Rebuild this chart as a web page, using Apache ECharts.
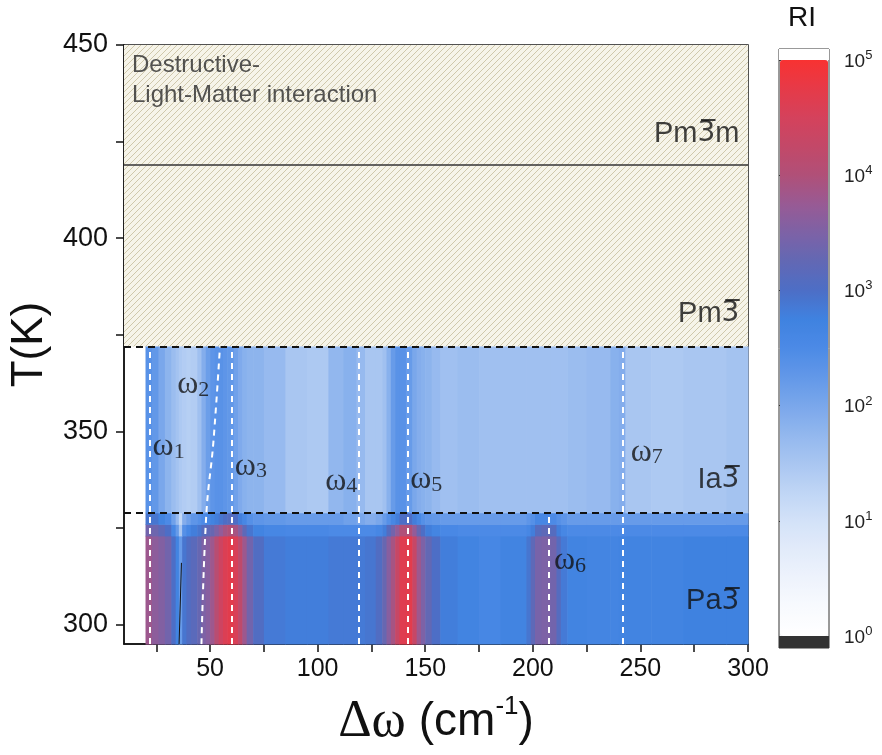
<!DOCTYPE html>
<html>
<head>
<meta charset="utf-8">
<script src="https://cdn.jsdelivr.net/npm/echarts@6/dist/echarts.min.js"></script>
<style>
  html, body { margin: 0; padding: 0; background: #fff; }
  #main { width: 882px; height: 755px; }
</style>
</head>
<body>
<div id="main"></div>
<script>
// wavenumber bin edges (cm-1) of the Raman map
var xEdges = [20, 23, 26, 29, 32, 34, 35.5, 37, 39, 41, 44, 46, 48, 50, 52, 54, 56, 58, 61, 63, 65, 67, 70, 75,
              85, 95, 105, 112, 118, 122, 127, 130, 132, 134, 136, 138, 141, 144, 146, 148, 150, 153, 157, 165,
              175, 185, 197, 199, 201, 204, 208, 211, 213, 216, 225, 236, 240, 243, 255, 270, 290, 300];
// temperature bands (K): Pa-3 phase, two transition rows, Ia-3 phase
var tBands = [295, 323, 326, 329, 372];
// log10(RI) per wavenumber bin, one array per temperature band
var logPa3 = [3.8, 3.65, 3.55, 3.4, 3.0, 2.7, 2.2, 2.9, 3.05, 3.15, 3.3, 3.5, 3.6, 3.8, 4.1, 4.4, 4.6, 4.7, 4.55, 4.2,
              3.8, 3.4, 3.05, 2.85, 2.8, 2.8, 2.85, 2.85, 2.85, 2.9, 3.05, 3.3, 3.6, 3.9, 4.3, 4.65, 4.7, 4.3, 3.8, 3.5,
              3.25, 3.0, 2.8, 2.7, 2.6, 2.7, 2.9, 3.2, 3.45, 3.5, 3.4, 3.1, 2.85, 2.7, 2.65, 2.65, 2.7, 2.7, 2.7, 2.75, 2.75];
var logTransLow = [3.4, 3.35, 3.2, 3.0, 2.6, 2.2, 1.5, 2.4, 2.6, 2.8, 2.9, 3.1, 3.2, 3.3, 3.5, 3.7, 3.9, 4.0, 3.9, 3.6,
                   3.2, 2.9, 2.7, 2.6, 2.55, 2.55, 2.5, 2.5, 2.5, 2.5, 2.6, 2.8, 3.1, 3.4, 3.7, 4.0, 4.0, 3.7, 3.3, 3.0,
                   2.8, 2.65, 2.55, 2.5, 2.5, 2.5, 2.6, 2.8, 3.1, 3.2, 3.1, 2.8, 2.6, 2.5, 2.5, 2.5, 2.5, 2.5, 2.5, 2.5, 2.5];
var logTransHigh = [2.9, 2.9, 2.7, 2.5, 2.1, 1.7, 1.2, 1.9, 2.1, 2.3, 2.4, 2.5, 2.6, 2.7, 2.8, 2.9, 3.0, 3.1, 3.0, 2.8,
                    2.6, 2.4, 2.3, 2.25, 2.2, 2.2, 2.2, 2.1, 2.0, 1.9, 2.0, 2.2, 2.4, 2.6, 2.8, 3.0, 3.0, 2.8, 2.6, 2.4,
                    2.3, 2.25, 2.2, 2.2, 2.2, 2.2, 2.3, 2.4, 2.6, 2.6, 2.5, 2.4, 2.3, 2.2, 2.2, 2.2, 2.2, 2.2, 2.2, 2.2, 2.2];
var logIa3 = [2.35, 2.25, 2.0, 1.8, 1.65, 1.55, 1.45, 1.4, 1.35, 1.4, 1.6, 1.9, 2.15, 2.3, 2.35, 2.35, 2.3, 2.25, 2.1, 1.95,
              1.85, 1.8, 1.8, 1.7, 1.5, 1.45, 1.75, 1.85, 1.7, 1.5, 1.5, 1.6, 1.85, 2.2, 2.35, 2.35, 2.2, 2.0, 1.9, 1.85,
              1.8, 1.7, 1.6, 1.65, 1.6, 1.6, 1.6, 1.6, 1.6, 1.6, 1.6, 1.6, 1.6, 1.65, 1.7, 1.85, 1.9, 1.5, 1.45, 1.5, 1.55];

// phonon modes (white dashed guides)
var modeX = [22, 60, 119, 142, 207.5, 242];
var modeTop = [372, 372, 372, 372, 329, 372];
var omega2Curve = [[46, 295], [48.3, 329], [51.5, 347], [54.6, 372]];
var softLine = [[35.6, 295], [36.7, 316]];

// mode labels
var omegaIdx = ['1', '2', '3', '4', '5', '6', '7'];
var omegaX = [23.3, 34.7, 61.5, 103.5, 143, 209.8, 245.5];
var omegaT = [346, 362, 341, 337, 337.5, 316.5, 344.5];

// phases: [before bar, barred digit, after bar]
var phaseNames = [['Pm', '3\u0305', 'm'], ['Pm', '3\u0305', ''], ['Ia', '3\u0305', ''], ['Pa', '3\u0305', '']];
var phaseT = [427, 380.5, 337.5, 306];
var solidBoundary = 419;
var dashedBoundaries = [372, 329];

// axes ticks
var xTicks = [25, 50, 75, 100, 125, 150, 175, 200, 225, 250, 275, 300];
var xLabels = [50, 100, 150, 200, 250, 300];
var yTicks = [300, 325, 350, 375, 400, 425, 450];
var yLabels = [300, 350, 400, 450];
var cbarTicks = [0, 1, 2, 3, 4, 5];
var cbarColors = ['#ffffff', '#f8fafe', '#eef3fc', '#e2ebfa', '#d3e2f8', '#bfd5f5', '#a9c6f1', '#92b7ee',
                  '#7aa7eb', '#6298e8', '#4c8ae6', '#3f82e0', '#4d6ec6', '#6268b4', '#7d62a6', '#985a94',
                  '#b05078', '#c34868', '#d4425c', '#e63a48', '#f83232'];

function hatchPattern() {
    var c = document.createElement('canvas');
    c.width = 6; c.height = 6;
    var g = c.getContext('2d');
    g.fillStyle = '#f6f4e9';
    g.fillRect(0, 0, 6, 6);
    g.strokeStyle = '#cbc3a4';
    g.lineWidth = 0.9;
    g.beginPath();
    g.moveTo(0, 6); g.lineTo(6, 0);
    g.moveTo(-1, 1); g.lineTo(1, -1);
    g.moveTo(5, 7); g.lineTo(7, 5);
    g.stroke();
    return c;
}

// build heatmap cells [x0, x1, t0, t1, logRI]
var rows = [logPa3, logTransLow, logTransHigh, logIa3];
var cells = [];
for (var r = 0; r < rows.length; r++) {
    for (var i = 0; i < xEdges.length - 1; i++) {
        cells.push([xEdges[i], xEdges[i + 1], tBands[r], tBands[r + 1], rows[r][i]]);
    }
}

var modeLines = [];
for (var k = 0; k < modeX.length; k++) {
    modeLines.push([{coord: [modeX[k], 295]}, {coord: [modeX[k], modeTop[k]]}]);
}
var boundaryLines = dashedBoundaries.map(function (t) {
    return [{coord: [10, t]}, {coord: [300, t]}];
});
boundaryLines.push([{coord: [10, solidBoundary], lineStyle: {type: 'solid', width: 1.5, color: '#333'}},
                    {coord: [300, solidBoundary]}]);

var omegaData = omegaIdx.map(function (s, i) { return [omegaX[i], omegaT[i], s]; });
var phaseData = phaseNames.map(function (s, i) { return [296, phaseT[i], s]; });

var myChart = echarts.init(document.getElementById('main'));
var option = {
    animation: false,
    textStyle: {fontFamily: 'Liberation Sans'},
    grid: [
        {left: 124, right: 134, top: 45, bottom: 111, show: true, borderColor: '#1a1a1a', borderWidth: 1.5},
        {left: 779, top: 49, width: 50, height: 599, show: true, borderColor: '#333', borderWidth: 1}
    ],
    xAxis: [
        {
            type: 'value', gridIndex: 0, min: 10, max: 300,
            name: '{w|\u0394\u03c9\u00a0}{c|(cm}{s|-1}{c|)}', nameLocation: 'middle', nameGap: 50,
            nameTextStyle: {
                rich: {
                    w: {fontFamily: 'Liberation Serif', fontSize: 52, color: '#111', lineHeight: 56},
                    c: {fontFamily: 'Liberation Sans', fontSize: 46, color: '#111', lineHeight: 56},
                    s: {fontFamily: 'Liberation Sans', fontSize: 26, color: '#111', lineHeight: 56, verticalAlign: 'top', padding: [0, 0, 18, 0]}
                }
            },
            axisLine: {show: true, lineStyle: {color: '#111', width: 1.5}},
            axisTick: {show: true, length: 8, customValues: xTicks, lineStyle: {color: '#111', width: 1.5}},
            axisLabel: {customValues: xLabels, fontSize: 25, color: '#111', margin: 13},
            splitLine: {show: false}
        },
        {type: 'value', gridIndex: 1, min: 0, max: 1, show: false}
    ],
    yAxis: [
        {
            type: 'value', gridIndex: 0, min: 295, max: 450,
            name: 'T(K)', nameLocation: 'middle', nameGap: 58, nameRotate: 90,
            nameTextStyle: {fontSize: 44, color: '#111'},
            axisLine: {show: true, lineStyle: {color: '#111', width: 1.5}},
            axisTick: {show: true, length: 8, customValues: yTicks, lineStyle: {color: '#111', width: 1.5}},
            axisLabel: {customValues: yLabels, fontSize: 27, color: '#111', margin: 16},
            splitLine: {show: false}
        },
        {
            type: 'value', gridIndex: 1, position: 'right', min: -0.104, max: 5.0955,
            axisLine: {show: false},
            axisTick: {show: true, length: 9, customValues: cbarTicks, lineStyle: {color: '#333'}},
            axisLabel: {
                customValues: cbarTicks, margin: 15,
                formatter: function (v) { return '{b|10}{s|' + Math.round(v) + '}'; },
                rich: {
                    b: {fontSize: 19, color: '#222', lineHeight: 22, verticalAlign: 'bottom'},
                    s: {fontSize: 13, color: '#222', lineHeight: 22, verticalAlign: 'top', padding: [0, 0, 8, 0]}
                }
            },
            splitLine: {show: false}
        }
    ],
    visualMap: {
        type: 'continuous', min: 0, max: 5, dimension: 4, seriesIndex: 0,
        left: 780, top: 60, itemWidth: 48, itemHeight: 576, padding: 0,
        calculable: false, hoverLink: false, text: null,
        inRange: {color: cbarColors}
    },
    graphic: [
        {type: 'text', left: 788, top: 4, style: {text: 'RI', fontSize: 28, fill: '#111', fontFamily: 'Liberation Sans'}}
    ],
    series: [
        {
            type: 'custom', xAxisIndex: 0, yAxisIndex: 0, silent: true,
            encode: {x: [0, 1], y: [2, 3]},
            renderItem: function (params, api) {
                var p0 = api.coord([api.value(0), api.value(3)]);
                var p1 = api.coord([api.value(1), api.value(2)]);
                return {
                    type: 'rect',
                    shape: {x: p0[0], y: p0[1], width: p1[0] - p0[0] + 0.6, height: p1[1] - p0[1] + 0.6},
                    style: {fill: api.visual('color')}
                };
            },
            data: cells
        },
        {
            type: 'line', xAxisIndex: 0, yAxisIndex: 0, data: [], silent: true, z: 1,
            markArea: {
                silent: true,
                itemStyle: {color: {image: hatchPattern(), repeat: 'repeat'}},
                data: [[{coord: [10, 372]}, {coord: [300, 450]}]]
            }
        },
        {
            type: 'line', xAxisIndex: 0, yAxisIndex: 0, data: [], silent: true, z: 5,
            markLine: {
                silent: true, symbol: 'none', label: {show: false},
                data: modeLines,
                lineStyle: {color: '#ffffff', type: [6, 5], width: 2}
            }
        },
        {
            type: 'line', xAxisIndex: 0, yAxisIndex: 0, data: [], silent: true, z: 6,
            markLine: {
                silent: true, symbol: 'none', label: {show: false},
                data: boundaryLines,
                lineStyle: {color: '#111', type: [7, 5], width: 2}
            }
        },
        {
            type: 'line', xAxisIndex: 0, yAxisIndex: 0, data: omega2Curve, smooth: 0.4,
            symbol: 'none', silent: true, z: 5,
            lineStyle: {color: '#ffffff', type: [6, 5], width: 2}
        },
        {
            type: 'line', xAxisIndex: 0, yAxisIndex: 0, data: softLine,
            symbol: 'none', silent: true, z: 5,
            lineStyle: {color: '#111', width: 1}
        },
        {
            type: 'scatter', xAxisIndex: 0, yAxisIndex: 0, data: omegaData, symbolSize: 0, silent: true, z: 7,
            label: {
                show: true, position: [0, 0], align: 'left', verticalAlign: 'middle',
                formatter: function (p) { return '{w|\u03c9}{s|' + p.data[2] + '}'; },
                rich: {
                    w: {fontFamily: 'Liberation Serif', fontSize: 32, color: '#111', lineHeight: 32, verticalAlign: 'bottom'},
                    s: {fontFamily: 'Liberation Serif', fontSize: 22, color: '#111', lineHeight: 32, verticalAlign: 'bottom', padding: [13, 0, 0, 0]}
                }
            }
        },
        {
            type: 'scatter', xAxisIndex: 0, yAxisIndex: 0, data: phaseData, symbolSize: 0, silent: true, z: 7,
            label: {
                show: true, position: [0, 0], align: 'right', verticalAlign: 'middle',
                formatter: function (p) {
                    var s = '{a|' + p.data[2][0] + '}{b|' + p.data[2][1] + '}';
                    if (p.data[2][2]) { s += '{a|' + p.data[2][2] + '}'; }
                    return s;
                },
                rich: {
                    a: {fontSize: 29, color: '#111', fontFamily: 'Liberation Sans', lineHeight: 36},
                    b: {fontSize: 28, color: '#111', fontFamily: 'DejaVu Sans', lineHeight: 36}
                }
            }
        },
        {
            type: 'scatter', xAxisIndex: 0, yAxisIndex: 0, symbolSize: 0, silent: true, z: 7,
            data: [[13.7, 444.8, 'Destructive-'], [13.7, 437, 'Light-Matter interaction']],
            label: {
                show: true, position: [0, 0], align: 'left', verticalAlign: 'middle',
                formatter: function (p) { return p.data[2]; },
                fontSize: 24, color: '#2a2a2a', fontFamily: 'Liberation Sans'
            }
        },
        {
            type: 'line', xAxisIndex: 1, yAxisIndex: 1, data: [], silent: true, z: 10,
            markArea: {
                silent: true,
                data: [
                    [{yAxis: -0.104, itemStyle: {color: '#333333'}}, {yAxis: 0}],
                    [{yAxis: 5, itemStyle: {color: '#ffffff'}}, {yAxis: 5.0955}]
                ]
            }
        }
    ]
};
myChart.setOption(option);
</script>
</body>
</html>
